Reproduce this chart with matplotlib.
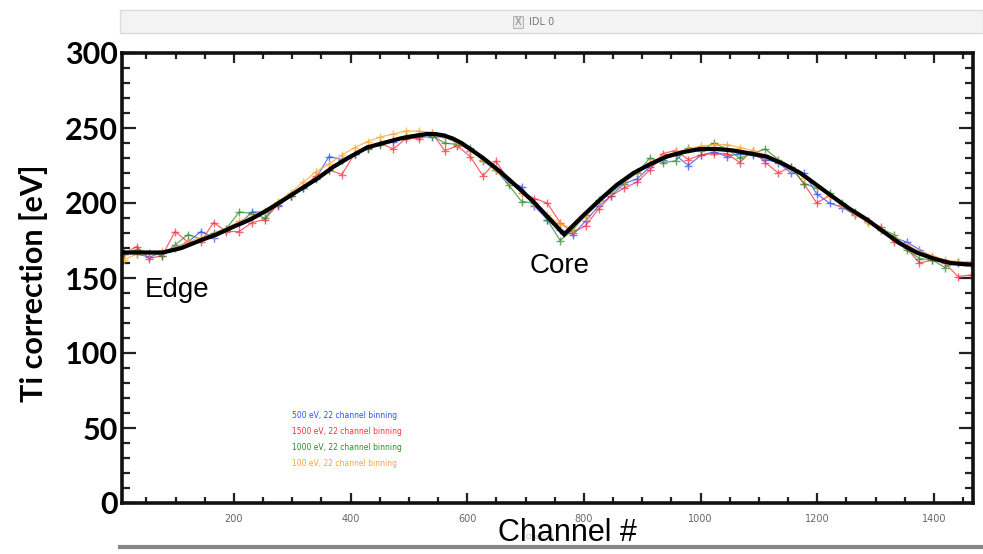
import matplotlib
matplotlib.use("Agg")
import matplotlib.pyplot as plt
from matplotlib.patches import Rectangle
from matplotlib.lines import Line2D
from matplotlib.ticker import MultipleLocator

# channel centres of the 22-channel bins
channels = [11, 33, 55, 77, 99, 121, 143, 165, 187, 209, 231, 253, 275, 297, 319, 341,
            363, 385, 407, 429, 451, 473, 495, 517, 539, 561, 583, 605, 627, 649, 671, 693,
            715, 737, 759, 781, 803, 825, 847, 869, 891, 913, 935, 957, 979, 1001, 1023,
            1045, 1067, 1089, 1111, 1133, 1155, 1177, 1199, 1221, 1243, 1265, 1287, 1309,
            1331, 1353, 1375, 1397, 1419, 1441, 1463]

# 500 eV
blue_vals = [167, 166, 164, 167, 170, 174, 181, 177, 182, 186, 194, 194, 198, 205, 210, 217,
             231, 229, 233, 237, 240, 241, 244, 244, 244, 244, 240, 235, 229, 222, 214, 211,
             198, 189, 182, 179, 188, 198, 205, 213, 216, 224, 229, 232, 225, 232, 234, 231,
             233, 232, 229, 227, 220, 220, 206, 200, 197, 192, 188, 182, 177, 174, 169, 164,
             161, 160, 160]
# 1500 eV
red_vals = [166, 171, 163, 165, 181, 174, 174, 187, 181, 181, 187, 189, 199, 205, 211, 218,
            222, 219, 233, 237, 240, 236, 243, 243, 247, 235, 238, 231, 218, 228, 215, 207,
            203, 200, 187, 180, 185, 196, 205, 210, 214, 222, 233, 235, 229, 232, 233, 233,
            227, 235, 227, 220, 224, 213, 200, 205, 199, 193, 188, 184, 174, 170, 160, 162,
            160, 151, 152]
# 1000 eV
green_vals = [166, 169, 167, 165, 172, 179, 176, 180, 183, 194, 193, 190, 200, 205, 210, 216,
              222, 229, 233, 236, 239, 242, 245, 246, 245, 240, 239, 237, 228, 222, 212, 201,
              200, 189, 175, 182, 192, 202, 207, 214, 220, 230, 227, 228, 237, 235, 240, 236,
              230, 233, 236, 229, 224, 213, 210, 207, 200, 194, 188, 183, 179, 169, 163, 162,
              157, 161, 159]
# 100 eV
orange_vals = [162, 166, 167, 168, 170, 174, 177, 179, 183, 188, 191, 195, 201, 207, 214, 221,
               226, 232, 237, 241, 244, 246, 248, 248, 247, 244, 240, 235, 229, 222, 215, 207,
               199, 192, 186, 183, 191, 200, 208, 215, 221, 227, 231, 234, 236, 238, 239, 239,
               237, 235, 232, 228, 223, 217, 211, 205, 198, 192, 187, 182, 177, 172, 168, 165,
               162, 161, 161]

# smooth fit (black)
fit_ch = [8, 40, 78, 110, 142, 170, 198, 228, 256, 285, 313, 342, 370, 400, 428, 456, 485,
          514, 530, 545, 560, 575, 590, 605, 627, 656, 685, 713, 742, 766, 797, 827, 856, 885,
          914, 942, 971, 999, 1028, 1056, 1085, 1113, 1142, 1171, 1199, 1227, 1256, 1285,
          1313, 1342, 1370, 1399, 1428, 1457, 1467]
fit_vals = [167, 167, 167, 170, 175, 179, 184, 189, 195, 202, 209, 216, 224, 231, 237, 240,
            243, 245, 246, 246, 245, 243, 240, 236, 230, 221, 211, 201, 189, 179, 191, 202,
            212, 220, 226, 231, 234, 236, 236, 235, 233, 231, 226, 220, 212, 204, 196, 189,
            181, 173, 167, 163, 160, 159, 159]

legend_labels = ['500 eV, 22 channel binning', '1500 eV, 22 channel binning',
                 '1000 eV, 22 channel binning', '100 eV, 22 channel binning']
colors = ['#3050ff', '#ff3040', '#2e8b2e', '#ffa630']

W, H = 983, 554
fig = plt.figure(figsize=(W / 100, H / 100), dpi=100)
ax = fig.add_axes([122 / W, 1 - 503 / H, (973 - 122) / W, (503 - 53) / H])

for vals, c in zip([blue_vals, red_vals, green_vals, orange_vals], colors):
    ax.plot(channels, vals, color=c, lw=0.9, marker='+', ms=6, mew=1.0, alpha=0.75)
ax.plot(fit_ch, fit_vals, color='black', lw=3, solid_joinstyle='miter', zorder=5)

ax.set_xlim(8, 1467)
ax.set_ylim(0, 300)
ax.xaxis.set_major_locator(MultipleLocator(200))
ax.xaxis.set_minor_locator(MultipleLocator(50))
ax.yaxis.set_major_locator(MultipleLocator(50))
ax.yaxis.set_minor_locator(MultipleLocator(10))
ax.tick_params(which='both', direction='in', top=True, right=True, width=1.6, color='#222222')
ax.tick_params(axis='x', which='major', length=7, labelsize=7, labelcolor='#666666', pad=8)
ax.tick_params(axis='x', which='minor', length=4)
ax.tick_params(axis='y', which='major', length=10, pad=3)
ax.tick_params(axis='y', which='minor', length=6)
for lbl in ax.get_yticklabels():
    lbl.set_fontfamily('Lato')
    lbl.set_fontweight('bold')
    lbl.set_fontsize(22)
for s in ax.spines.values():
    s.set_linewidth(2.6)
    s.set_color('#111111')

# legend text in the IDL window (pixel positions from the top)
for i, (lab, c) in enumerate(zip(legend_labels, colors)):
    fig.text(292 / W, 1 - (416 + i * 15.7) / H, lab, fontsize=5.5, color=c,
             va='center', ha='left')

# annotations
fig.text(145 / W, 1 - 290 / H, 'Edge', fontsize=20, family='Liberation Sans',
         va='center', ha='left')
fig.text(530 / W, 1 - 266 / H, 'Core', fontsize=20, family='Liberation Sans',
         va='center', ha='left')
fig.text(34 / W, 1 - 283 / H, 'Ti correction [eV]', rotation=90, fontsize=22,
         family='Lato', fontweight='bold', va='center', ha='center')
fig.text(540 / W, 1 - 537 / H, 'Channel', fontsize=5, color='#bbbbbb',
         va='center', ha='center', zorder=0)
fig.text(567 / W, 1 - 533 / H, 'Channel #', fontsize=22, family='Liberation Sans',
         va='center', ha='center')

# window title bar
fig.patches.append(Rectangle((120 / W, 1 - 33 / H), (W - 120) / W, 23 / H,
                             transform=fig.transFigure, facecolor='#f3f3f3',
                             edgecolor='#dcdcdc', lw=1))
fig.text(529 / W, 1 - 22 / H, 'IDL 0', fontsize=7, color='#777777', va='center', ha='left')
fig.text(518 / W, 1 - 22 / H, 'X', fontsize=7, color='#888888', va='center', ha='center',
         bbox=dict(boxstyle='square,pad=0.15', fc='#e8e8e8', ec='#aaaaaa', lw=0.6))
# bottom window edge
fig.lines.append(Line2D([120 / W, 1], [1 - 547 / H, 1 - 547 / H], transform=fig.transFigure,
                        color='#888888', lw=3))

fig.savefig('out.png', dpi=100)
